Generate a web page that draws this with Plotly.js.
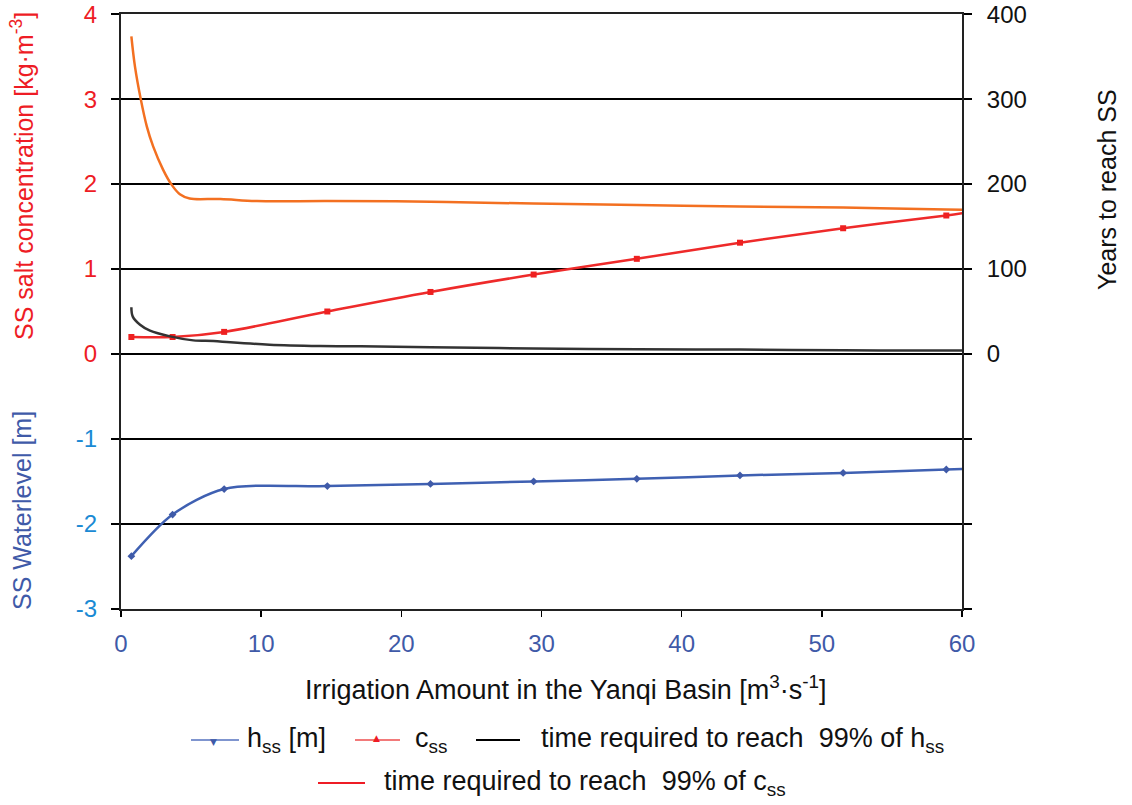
<!DOCTYPE html>
<html>
<head>
<meta charset="utf-8">
<script src="https://cdn.plot.ly/plotly-3.0.1.min.js"></script>
<style>html,body{margin:0;padding:0;background:#fff;}</style>
</head>
<body>
<div id="chart" style="width:1132px;height:805px;"></div>
<script>
// ---- data ----
const irrigation = [0.74, 3.68, 7.36, 14.72, 22.08, 29.44, 36.8, 44.16, 51.52, 58.88];
const hss = [-2.38, -1.89, -1.59, -1.555, -1.53, -1.50, -1.47, -1.43, -1.40, -1.36];
const css = [0.20, 0.20, 0.26, 0.50, 0.73, 0.935, 1.12, 1.31, 1.48, 1.63];
const irrigationEdge = [60.4];
const hssEdge = [-1.35];
const cssEdge = [1.665];

const timeHx = [0.74, 0.84, 1.36, 2.07, 3.5, 5.16, 6.6, 7.8, 10.6, 14.2, 17.1, 22.08, 29.44, 36.8, 44.16, 51.52, 58.88, 60.4];
const timeH  = [55, 44, 34.4, 27.4, 20.7, 16, 15.2, 13.7, 11, 9.5, 9, 8, 6.5, 5.5, 5.2, 4.3, 4.0, 4.0];

const timeCx = [0.74, 1.0, 1.41, 1.84, 2.3, 3.0, 3.6, 4.2, 4.9, 7.1, 9.7, 14.72, 22.08, 29.44, 36.8, 44.16, 51.52, 58.88, 60.4];
const timeC  = [374, 338, 300, 268, 244, 217, 199.5, 188, 183, 182.5, 180, 180, 179.3, 177, 175.5, 173.5, 172.3, 170, 169.7];

const xTicks = [0, 10, 20, 30, 40, 50, 60];
const leftTicks = [-3, -2, -1, 0, 1, 2, 3, 4];
const rightTicks = [-300, -200, -100, 0, 100, 200, 300, 400];

// ---- styling ----
const FONT = 'Liberation Sans, Arial, sans-serif';
const RED = '#ee1c25', BLUE = '#3f5aa8', CYAN = '#1a8ad4', ORANGE = '#f37021';
const L = 121, R = 170, T = 14, B = 196, W = 1132, H = 805;
const PW = W - L - R, PH = H - T - B;
const px = v => (v - L) / PW;
const py = v => (H - B - v) / PH;

const leftTickText = leftTicks.map(v =>
  '<span style="color:' + (v < 0 ? CYAN : RED) + '">' + v + '</span>');
const rightTickText = rightTicks.map(v => (v < 0 ? '' : String(v)));

const traces = [
  { x: irrigation.concat(irrigationEdge), y: hss.concat(hssEdge), name: 'h<sub>ss</sub> [m]',
    type: 'scatter', mode: 'lines+markers', yaxis: 'y', showlegend: false,
    line: { color: '#3f60b2', width: 2.5, shape: 'spline', smoothing: 0.85 },
    marker: { symbol: 'diamond', size: 6, color: BLUE } },
  { x: irrigation.concat(irrigationEdge), y: css.concat(cssEdge), name: 'c<sub>ss</sub>',
    type: 'scatter', mode: 'lines+markers', yaxis: 'y', showlegend: false,
    line: { color: '#ee2a2a', width: 2.5, shape: 'spline' },
    marker: { symbol: 'square', size: 6, color: '#ee2020' } },
  { x: timeHx, y: timeH, name: 'time required to reach 99% of h<sub>ss</sub>',
    type: 'scatter', mode: 'lines', yaxis: 'y2', showlegend: false,
    line: { color: '#333333', width: 2.5, shape: 'spline' } },
  { x: timeCx, y: timeC, name: 'time required to reach 99% of c<sub>ss</sub>',
    type: 'scatter', mode: 'lines', yaxis: 'y2', showlegend: false,
    line: { color: ORANGE, width: 2.5, shape: 'spline' } }
];

// custom legend (two centred rows)
const shapes = [];
const annotations = [];
function legLine(x0, x1, y, color) {
  shapes.push({ type: 'line', xref: 'paper', yref: 'paper',
    x0: px(x0), x1: px(x1), y0: py(y), y1: py(y), line: { color: color, width: 2 } });
}
function legText(x, y, text, size) {
  annotations.push({ xref: 'paper', yref: 'paper', x: px(x), y: py(y), xanchor: 'left', yanchor: 'middle',
    text: text, showarrow: false, font: { family: FONT, size: size || 27, color: '#111' } });
}
function legMark(x, y, ch, color) {
  annotations.push({ xref: 'paper', yref: 'paper', x: px(x), y: py(y), xanchor: 'center', yanchor: 'middle',
    text: ch, showarrow: false, font: { family: 'DejaVu Sans', size: 9, color: color } });
}
legLine(191, 239, 740, '#7f95cf');  legMark(213, 742, '▼', BLUE);
legText(245, 740, 'h<sub>ss</sub> [m]');
legLine(355, 400, 740, '#f27a7a');  legMark(376, 738, '▲', RED);
legText(413, 740, 'c<sub>ss</sub>');
legLine(476, 520, 740, '#000');
legText(539, 740, 'time required to reach\u00a0 99% of h<sub>ss</sub>');
legLine(318, 365, 783, RED);
legText(382, 783, 'time required to reach\u00a0 99% of c<sub>ss</sub>');

// axis titles
annotations.push({ xref: 'paper', yref: 'paper', x: px(22), y: py(176), xanchor: 'center', yanchor: 'middle',
  textangle: -90, showarrow: false, text: 'SS salt concentration [kg·m<sup>-3</sup>]',
  font: { family: FONT, size: 25, color: RED } });
annotations.push({ xref: 'paper', yref: 'paper', x: px(22), y: py(511), xanchor: 'center', yanchor: 'middle',
  textangle: -90, showarrow: false, text: 'SS Waterlevel [m]',
  font: { family: FONT, size: 25, color: BLUE } });
annotations.push({ xref: 'paper', yref: 'paper', x: px(1107), y: py(190), xanchor: 'center', yanchor: 'middle',
  textangle: -90, showarrow: false, text: 'Years to reach SS',
  font: { family: FONT, size: 25, color: '#111' } });
annotations.push({ xref: 'paper', yref: 'paper', x: px(566), y: py(688), xanchor: 'center', yanchor: 'middle',
  showarrow: false, text: 'Irrigation Amount in the Yanqi Basin [m<sup>3</sup>·s<sup>-1</sup>]',
  font: { family: FONT, size: 27, color: '#111' } });

const layout = {
  width: W, height: H,
  margin: { l: L, r: R, t: T, b: B, pad: 0 },
  paper_bgcolor: '#fff', plot_bgcolor: '#fff',
  font: { family: FONT, size: 24, color: '#111' },
  showlegend: false,
  xaxis: {
    range: [0, 60], tickmode: 'array', tickvals: xTicks,
    tickfont: { family: FONT, size: 24, color: BLUE },
    ticks: 'outside', ticklen: 6, tickwidth: 1.5, tickcolor: '#000',
    showline: true, linewidth: 2, linecolor: '#222', mirror: true,
    showgrid: false, zeroline: false, ticklabelstandoff: 6, ticklabeloverflow: 'allow'
  },
  yaxis: {
    range: [-3.002, 4.002], tickmode: 'array', tickvals: leftTicks, ticktext: leftTickText,
    tickfont: { family: FONT, size: 24 },
    ticks: 'outside', ticklen: 8, tickwidth: 1.5, tickcolor: '#000',
    showline: true, linewidth: 2, linecolor: '#222',
    showgrid: true, gridcolor: '#000', gridwidth: 1.5, zeroline: false, ticklabelstandoff: 9,
    ticklabeloverflow: 'allow'
  },
  yaxis2: {
    overlaying: 'y', side: 'right', range: [-300.2, 400.2], tickmode: 'array',
    tickvals: rightTicks, ticktext: rightTickText,
    tickfont: { family: FONT, size: 24, color: '#111' },
    ticks: 'outside', ticklen: 8, tickwidth: 1.5, tickcolor: '#000',
    showline: true, linewidth: 2, linecolor: '#222',
    showgrid: false, zeroline: false, ticklabelstandoff: 10, ticklabeloverflow: 'allow'
  },
  shapes: shapes,
  annotations: annotations
};

Plotly.newPlot('chart', traces, layout, { displayModeBar: false, staticPlot: true });
</script>
</body>
</html>
